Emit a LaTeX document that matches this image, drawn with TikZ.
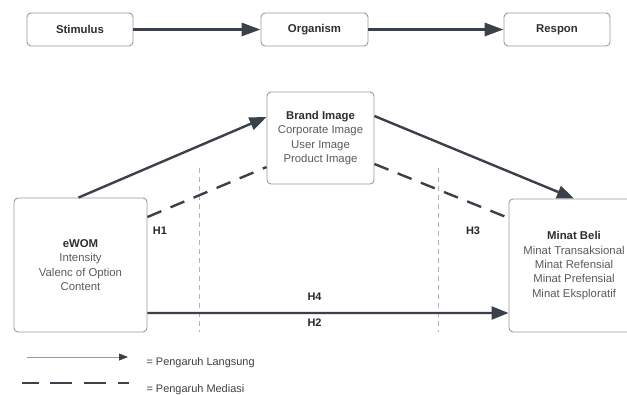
\documentclass[tikz,border=0pt]{standalone}
\usepackage{fontspec}
\setmainfont{Liberation Sans}
\usetikzlibrary{arrows.meta}

\definecolor{linegray}{HTML}{3B414B}
\definecolor{boxgray}{HTML}{9A9A9A}
\definecolor{subgray}{HTML}{5A5A5A}

\tikzstyle{box} = [draw=boxgray, rectangle, rounded corners=4bp, line width=0.9bp,
    align=center, font=\fontsize{11.4}{14.4}\selectfont, text=black!82]
\tikzstyle{arrow} = [draw=linegray, line width=2.4bp,
    -{Triangle[length=17bp,width=13bp]}]
\tikzstyle{mediasi} = [draw=linegray, line width=2.4bp, dash pattern=on 15bp off 10bp]
\tikzstyle{guide} = [draw=black!30, line width=0.6bp, dash pattern=on 5bp off 4bp]
\tikzstyle{hlabel} = [font=\fontsize{11}{12}\selectfont\bfseries, text=black!85]
\newcommand{\sub}[1]{{\color{subgray}#1}}

\begin{document}
\begin{tikzpicture}[x=1bp, y=-1bp]
    \useasboundingbox (0,0) rectangle (627,394);

    % S-O-R row
    \node[box, minimum width=106bp, minimum height=33bp] at (80,29.5) (stimulus) {\bfseries Stimulus};
    \node[box, minimum width=107bp, minimum height=33bp] at (314.5,29.5) (organism) {\bfseries Organism};
    \node[box, minimum width=106bp, minimum height=33bp] at (557,29.5) (respon) {\bfseries Respon};
    \draw[arrow, line width=3bp, -{Triangle[length=19bp,width=13bp]}] (stimulus) -- (organism);
    \draw[arrow, line width=3bp, -{Triangle[length=19bp,width=13bp]}] (organism) -- (respon);

    % model
    \node[box, minimum width=107bp, minimum height=92bp] at (320.5,138) (brand)
        {\bfseries Brand Image\\ \sub{Corporate Image}\\ \sub{User Image}\\ \sub{Product Image}};
    \node[box, minimum width=133bp, minimum height=134bp] at (80.5,265) (ewom)
        {\bfseries eWOM\\ \sub{Intensity}\\ \sub{Valenc of Option}\\ \sub{Content}};
    \node[box, minimum width=130bp, minimum height=133bp] at (574,265.5) (minat)
        {\bfseries Minat Beli\\ \sub{Minat Transaksional}\\ \sub{Minat Refensial}\\ \sub{Minat Prefensial}\\ \sub{Minat Eksploratif}};

    \draw[guide] (199.5,168) -- (199.5,332);
    \draw[guide] (438,168) -- (438,332);

    \draw[arrow] ([xshift=-2bp]ewom.north) -- ([yshift=21bp]brand.west);
    \draw[arrow] ([yshift=22bp]brand.east) -- (minat.north);
    \draw[mediasi] ([yshift=48bp]ewom.east) -- ([yshift=-29bp]brand.west);
    \draw[mediasi] ([yshift=-26bp]brand.east) -- ([yshift=47.5bp]minat.west);
    \draw[arrow] ([yshift=-48bp]ewom.east) -- ([yshift=-47.5bp]minat.west);

    \node[hlabel] at (160,231) (h1) {H1};
    \node[hlabel] at (473,231) (h3) {H3};
    \node[hlabel] at (314.5,297) (h4) {H4};
    \node[hlabel] at (314.5,323) (h2) {H2};

    % legend
    \coordinate (lang1) at (27,357);
    \coordinate (lang2) at (128,357);
    \coordinate (med1) at (22,383);
    \coordinate (med2) at (129,383);
    \draw[draw=black!40, line width=0.8bp, -{Triangle[length=9bp,width=7bp,color=linegray,fill=linegray]}] (lang1) -- (lang2);
    \draw[mediasi, dash pattern=on 17bp off 11bp on 22bp off 12bp on 22bp off 12bp] (med1) -- (med2);
    \node[anchor=west, font=\fontsize{11}{12}\selectfont, text=black!75] at (143,363) (langsung) {= Pengaruh Langsung};
    \node[anchor=west, font=\fontsize{11}{12}\selectfont, text=black!75] at (143,390) (mediasi) {= Pengaruh Mediasi};
\end{tikzpicture}
\end{document}
